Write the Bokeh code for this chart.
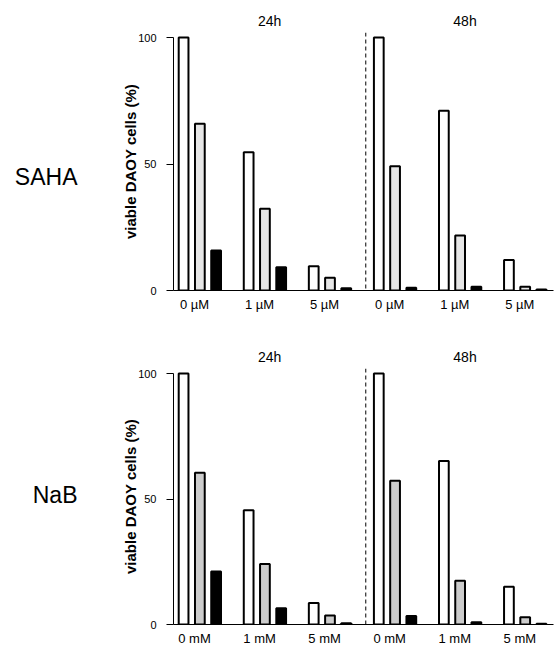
from bokeh.plotting import figure
from bokeh.models import Range1d, FixedTicker, Span, LinearAxis
from bokeh.layouts import column
from bokeh.embed import file_html
from bokeh.resources import INLINE

# ---- data ----
groups_um = ["0 µM", "1 µM", "5 µM", "0 µM", "1 µM", "5 µM"]
groups_mm = ["0 mM", "1 mM", "5 mM", "0 mM", "1 mM", "5 mM"]
times = ["24h", "48h"]

saha_white = [100, 54.7, 9.6, 100, 71.1, 12.1]
saha_gray = [65.9, 32.3, 5.0, 49.1, 21.7, 1.5]
saha_black = [15.8, 9.2, 0.9, 1.1, 1.5, 0.4]

nab_white = [100, 45.5, 8.6, 100, 65.1, 15.0]
nab_gray = [60.5, 24.1, 3.6, 57.3, 17.4, 2.9]
nab_black = [21.1, 6.5, 0.5, 3.4, 0.9, 0.3]

FONT = "Liberation Sans"


def bare_axis(ax):
    ax.axis_line_color = None
    ax.major_tick_out = 0
    ax.major_tick_in = 0
    ax.minor_tick_out = 0
    ax.minor_tick_in = 0
    ax.major_label_text_font = FONT
    ax.major_label_text_color = "black"


def panel(name, labels, white, gray, black, gray_color, height, top, bottom, name_y):
    p = figure(width=556, height=height, output_backend="svg", toolbar_location=None,
               x_range=Range1d(-0.62, 22.74), y_range=Range1d(0, 102),
               min_border_left=173, min_border_right=3,
               min_border_top=top, min_border_bottom=bottom)
    p.xgrid.visible = False
    p.ygrid.visible = False
    p.outline_line_color = None
    p.background_fill_color = "white"
    p.border_fill_color = "white"

    n = len(labels)
    centers = [4 * g + 0.67 for g in range(n)]
    xs_w = [4 * g for g in range(n)]
    xs_g = [4 * g + 1 for g in range(n)]
    xs_b = [4 * g + 2 for g in range(n)]
    p.vbar(x=xs_w, top=white, bottom=0, width=0.6, fill_color="white",
           line_color="black", line_width=2)
    p.vbar(x=xs_g, top=gray, bottom=0, width=0.6, fill_color=gray_color,
           line_color="black", line_width=2)
    p.vbar(x=xs_b, top=black, bottom=0, width=0.6, fill_color="black",
           line_color="black", line_width=2)

    p.add_layout(Span(location=11.2, dimension="height", line_color="black",
                      line_dash="4 3", line_width=1))

    # x axis
    xa = p.xaxis[0]
    bare_axis(xa)
    xa.ticker = FixedTicker(ticks=centers)
    xa.major_label_overrides = {c: l for c, l in zip(centers, labels)}
    xa.major_label_standoff = 6
    xa.major_label_text_font_size = "13px"
    xa.axis_line_color = "black"

    # y axis
    ya = p.yaxis[0]
    bare_axis(ya)
    ya.ticker = FixedTicker(ticks=[0, 50, 100])
    ya.bounds = (0, 100)
    ya.axis_line_color = "black"
    ya.major_tick_out = 7
    ya.major_label_standoff = 10
    ya.major_label_text_font_size = "11px"
    ya.axis_label = "viable DAOY cells (%)"
    ya.axis_label_text_font = FONT
    ya.axis_label_text_font_style = "bold"
    ya.axis_label_text_font_size = "15px"
    ya.axis_label_text_color = "black"
    ya.axis_label_standoff = -4

    # time headers as a top axis
    tpos = [5.29, 17.3]
    ta = LinearAxis(ticker=FixedTicker(ticks=tpos),
                    major_label_overrides={t: s for t, s in zip(tpos, times)})
    bare_axis(ta)
    ta.major_label_text_font_size = "14px"
    ta.major_label_standoff = 4
    p.add_layout(ta, "above")

    # row name as an outer left axis
    na = LinearAxis(ticker=FixedTicker(ticks=[name_y]),
                    major_label_overrides={name_y: name})
    bare_axis(na)
    na.major_label_text_font_size = "23px"
    na.major_label_standoff = 42
    p.add_layout(na, "left")
    return p


p1 = panel("SAHA", groups_um, saha_white, saha_gray, saha_black, "#e6e6e6",
           330, 32, 40, 44.7)
p2 = panel("NaB", groups_mm, nab_white, nab_gray, nab_black, "#cccccc",
           318, 38, 22, 51.7)

layout = column(p1, p2, spacing=0)
open("out.html", "w").write(file_html(layout, INLINE))
